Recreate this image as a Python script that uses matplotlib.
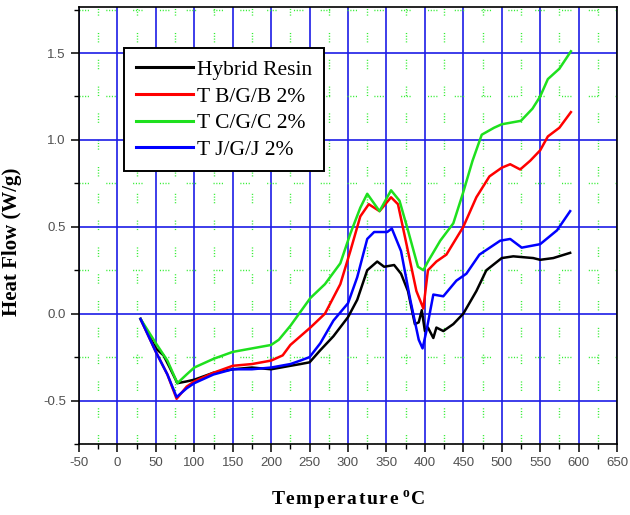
import numpy as np
import matplotlib
matplotlib.use('Agg')
import matplotlib.pyplot as plt
import matplotlib.ticker as ticker

plt.rcParams['axes.unicode_minus'] = False

# DSC curves, heat flow (W/g) against temperature (deg C)
t_hybrid = [30, 50, 60, 68, 78, 90, 100, 125, 150, 175, 200, 225, 238, 250, 264, 281, 300,
            312, 325, 338, 347, 360, 369, 378, 387, 392, 396, 400, 404, 411, 415, 424, 437,
            450, 467, 480, 500, 515, 541, 550, 567, 589]
hf_hybrid = [-0.03, -0.20, -0.24, -0.31, -0.40, -0.39, -0.38, -0.34, -0.32, -0.31, -0.32, -0.30,
             -0.29, -0.28, -0.21, -0.13, -0.02, 0.08, 0.25, 0.30, 0.27, 0.28, 0.23, 0.13,
             -0.06, -0.05, 0.02, -0.10, -0.08, -0.14, -0.08, -0.10, -0.06, 0.0, 0.13, 0.25,
             0.32, 0.33, 0.32, 0.31, 0.32, 0.35]

t_tbgb = [30, 50, 65, 77, 90, 100, 125, 150, 175, 200, 215, 225, 238, 251, 270, 290, 303, 316,
          327, 341, 356, 365, 378, 389, 398, 404, 415, 428, 450, 467, 484, 500, 511, 524, 537,
          550, 560, 575, 590]
hf_tbgb = [-0.03, -0.22, -0.35, -0.49, -0.42, -0.39, -0.34, -0.30, -0.29, -0.27, -0.24, -0.18,
           -0.13, -0.08, 0.0, 0.17, 0.36, 0.56, 0.63, 0.59, 0.67, 0.63, 0.36, 0.13, 0.03,
           0.25, 0.30, 0.34, 0.50, 0.67, 0.79, 0.84, 0.86, 0.83, 0.88, 0.94, 1.02, 1.07, 1.16]

t_tcgc = [30, 50, 65, 78, 90, 100, 125, 150, 175, 200, 210, 225, 238, 251, 270, 290, 303, 316,
          325, 341, 356, 367, 378, 391, 398, 404, 420, 437, 450, 462, 474, 490, 500, 525, 540,
          550, 560, 575, 590]
hf_tcgc = [-0.03, -0.17, -0.27, -0.40, -0.35, -0.31, -0.26, -0.22, -0.20, -0.18, -0.15, -0.07,
           0.01, 0.09, 0.17, 0.29, 0.46, 0.61, 0.69, 0.59, 0.71, 0.65, 0.48, 0.27, 0.25, 0.30,
           0.42, 0.52, 0.70, 0.88, 1.03, 1.07, 1.09, 1.11, 1.18, 1.25, 1.35, 1.41, 1.51]

t_tjgj = [30, 50, 65, 77, 90, 100, 125, 150, 175, 200, 225, 238, 250, 264, 281, 300, 312, 325,
          334, 351, 357, 369, 381, 392, 397, 402, 411, 424, 441, 454, 471, 498, 511, 526, 550,
          572, 589]
hf_tjgj = [-0.03, -0.22, -0.35, -0.48, -0.43, -0.40, -0.35, -0.32, -0.32, -0.31, -0.29, -0.27,
           -0.25, -0.17, -0.04, 0.06, 0.21, 0.43, 0.47, 0.47, 0.49, 0.36, 0.08, -0.15, -0.20,
           -0.10, 0.11, 0.10, 0.19, 0.23, 0.34, 0.42, 0.43, 0.38, 0.40, 0.48, 0.59]

labels = ['Hybrid Resin', 'T B/G/B 2%', 'T C/G/C 2%', 'T J/G/J 2%']
colors = ['black', '#ff0000', '#1ee01e', '#0000ff']

fig = plt.figure(figsize=(6.3, 5.15), dpi=100)
ax = fig.add_axes([0.1254, 0.1379, 0.8540, 0.8485])

ax.set_xlim(-50, 650)
ax.set_ylim(-0.75, 1.765)
ax.xaxis.set_major_locator(ticker.MultipleLocator(50))
ax.xaxis.set_minor_locator(ticker.MultipleLocator(25))
ax.yaxis.set_major_locator(ticker.MultipleLocator(0.5))
ax.yaxis.set_minor_locator(ticker.MultipleLocator(0.25))
ax.yaxis.set_major_formatter(ticker.FormatStrFormatter('%.1f'))

ax.set_axisbelow(True)
ax.grid(which='major', color='#1c1ce6', linewidth=1.2, linestyle='-')
ax.grid(which='minor', color='#33ee33', linewidth=1.0,
        linestyle=(0, (0.8, 1.2, 0.8, 1.2, 0.8, 1.2, 0.8, 12.5)))

for tt, hh, lab, c in zip([t_hybrid, t_tbgb, t_tcgc, t_tjgj],
                          [hf_hybrid, hf_tbgb, hf_tcgc, hf_tjgj], labels, colors):
    ax.plot(tt, hh, color=c, linewidth=1.8, label=lab)

for s in ax.spines.values():
    s.set_linewidth(1.2)
ax.tick_params(which='major', direction='out', length=6, width=1.1, labelsize=9.5,
               labelcolor='#505050', top=False, right=False)
ax.tick_params(which='minor', direction='out', length=3.5, width=1.0, top=False, right=False)
for lab in ax.get_xticklabels() + ax.get_yticklabels():
    lab.set_family('Liberation Sans')

ax.set_xlabel('T\u200ae\u200am\u200ap\u200ae\u200ar\u200aa\u200at\u200au\u200ar\u200ae $^\\mathregular{o}$C',
              family=['Liberation Serif', 'DejaVu Serif'], fontweight='bold', fontsize=14,
              labelpad=14)
ax.set_ylabel('Heat Flow (W/g)', family='Liberation Serif', fontweight='bold', fontsize=15)
ax.yaxis.set_label_coords(-0.106, 0.462)

leg = ax.legend(loc='upper left', bbox_to_anchor=(0.0836, 0.906), borderaxespad=0,
                prop={'family': 'Liberation Serif', 'size': 15.5}, handlelength=2.65,
                handletextpad=0.2, labelspacing=0.3, borderpad=0.55, fancybox=False,
                framealpha=1, edgecolor='black')
leg.get_frame().set_linewidth(1.4)
for ln in leg.get_lines():
    ln.set_linewidth(2.2)

fig.savefig('out.png', dpi=100)
